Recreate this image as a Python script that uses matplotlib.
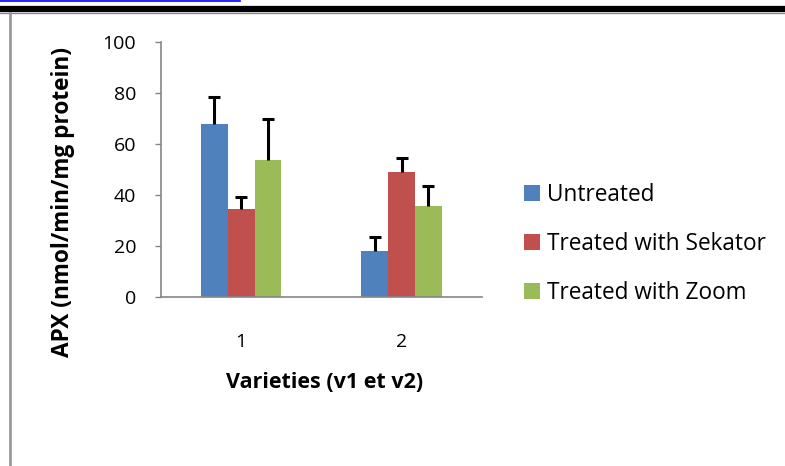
import numpy as np
import matplotlib.pyplot as plt
from matplotlib.lines import Line2D
from matplotlib.patches import Patch

plt.rcParams['font.family'] = ['Open Sans', 'DejaVu Sans']

# data
varieties = ['1', '2']
series_names = ['Untreated', 'Treated with Sekator', 'Treated with Zoom']
untreated = [68.0, 18.0]
sekator = [34.7, 49.1]
zoom = [53.8, 35.8]
untreated_err = [10.6, 5.8]
sekator_err = [4.8, 5.5]
zoom_err = [16.0, 8.0]
colors = ['#4F81BD', '#C0504D', '#9BBB59']

values = [untreated, sekator, zoom]
errors = [untreated_err, sekator_err, zoom_err]

fig = plt.figure(figsize=(7.85, 4.66), dpi=100)
ax = fig.add_axes([0.2051, 0.362, 0.4085, 0.5472])

x = np.arange(1, len(varieties) + 1)
w = 1 / 6
for i, (vals, errs, c) in enumerate(zip(values, errors, colors)):
    pos = x + (i - 1) * w
    ax.bar(pos, vals, width=w, color=c, edgecolor='none', zorder=2)
    # only upper error bars, like excel
    _, caps, _ = ax.errorbar(pos, vals, yerr=[np.zeros(len(errs)), errs], fmt='none',
                             ecolor='black', elinewidth=2.2, capsize=4, capthick=2.2, zorder=3)
    caps[0].set_visible(False)

ax.set_xlim(0.5, 2.5)
ax.set_ylim(0, 100)
ax.set_yticks(range(0, 101, 20))
ax.set_xticks(x)
ax.set_xticklabels(varieties)

for s in ['top', 'right']:
    ax.spines[s].set_visible(False)
for s in ['left', 'bottom']:
    ax.spines[s].set_color('#868686')
    ax.spines[s].set_linewidth(1.2)

ax.tick_params(axis='y', length=4, width=1, color='#868686', pad=14, labelsize=14)
ax.tick_params(axis='x', length=0, pad=26, labelsize=14)

ax.set_ylabel('APX (nmol/min/mg protein)', fontsize=16.3, fontweight='bold')
ax.set_xlabel('Varieties (v1 et v2)', fontsize=15.5, fontweight='bold')
ax.yaxis.label.set_va('center')
ax.xaxis.label.set_va('center')
ax.yaxis.set_label_coords(-0.3056, 0.3737)
ax.xaxis.set_label_coords(0.511, -0.336)

handles = [Patch(facecolor=c, edgecolor='none') for c in colors]
fig.legend(handles, series_names, loc='center left',
           bbox_to_anchor=(0.6675, 0.477), frameon=False, fontsize=16.3,
           handlelength=0.7, handleheight=0.7, handletextpad=0.3,
           labelspacing=1.1, borderpad=0, borderaxespad=0)

# page decorations around the chart
H = 466.0
fig.add_artist(Line2D([0, 240 / 785], [1 - 1.2 / H] * 2, color='#0000FF', lw=1.2))
fig.add_artist(Line2D([0, 1], [1 - 9 / H] * 2, color='black', lw=4.5))
fig.add_artist(Line2D([0, 1], [1 - 12.8 / H] * 2, color='#888888', lw=1))
fig.add_artist(Line2D([9.8 / 785] * 2, [0, 1 - 12.5 / H], color='#999999', lw=2))

fig.savefig('out.png', dpi=100)
